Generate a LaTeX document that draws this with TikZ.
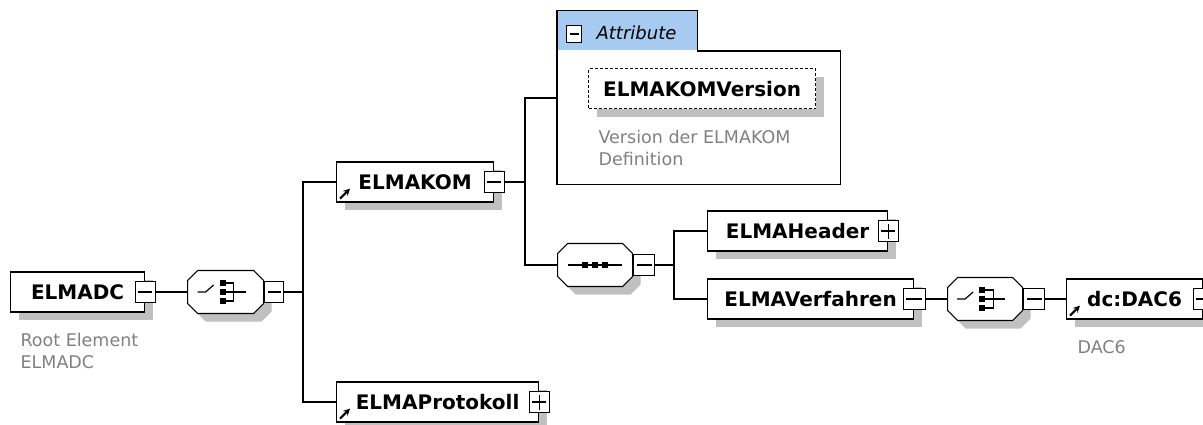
\documentclass[tikz,border=0pt]{standalone}
\usepackage{fontspec}
\setmainfont{DejaVu Sans}
\usetikzlibrary{shapes.misc, shadows, arrows, positioning}

\definecolor{shadowgray}{RGB}{192,192,192}
\definecolor{descgray}{RGB}{128,128,128}
\definecolor{attrblue}{RGB}{166,202,240}

\tikzset{
  elem/.style={rectangle, draw, fill=white, minimum height=40pt, anchor=west, inner sep=0pt,
    font=\fontsize{20}{24}\selectfont\bfseries,
    drop shadow={shadow xshift=8pt, shadow yshift=-8pt, fill=shadowgray, opacity=1}},
  attrelem/.style={elem, dash pattern=on 3pt off 2pt, anchor=north west},
  desc/.style={anchor=north west, inner sep=0pt, align=left, text=descgray,
    font=\fontsize{17.5}{22}\selectfont},
  expmin/.style={rectangle, draw, fill=white, minimum width=20pt, minimum height=21pt, inner sep=0pt,
    path picture={\draw ([xshift=3pt]path picture bounding box.west) -- ([xshift=-3pt]path picture bounding box.east);}},
  expplus/.style={expmin,
    path picture={\draw ([xshift=3pt]path picture bounding box.west) -- ([xshift=-3pt]path picture bounding box.east);
      \draw ([yshift=-3pt]path picture bounding box.north) -- ([yshift=3pt]path picture bounding box.south);}},
  comp/.style={chamfered rectangle, chamfered rectangle xsep=5pt, chamfered rectangle ysep=5pt,
    draw, fill=white, inner xsep=33pt, inner ysep=16.5pt, minimum size=0pt, anchor=west,
    drop shadow={shadow xshift=8pt, shadow yshift=-8pt, fill=shadowgray, opacity=1}},
  choice/.style={comp, path picture={
    \coordinate (o) at (path picture bounding box.center);
    \draw ([xshift=-28pt]o) -- ([xshift=-20pt]o) -- ([xshift=-12pt, yshift=7pt]o);
    \foreach \dy in {9,0,-9}
      \fill[black] ([xshift=-6pt, yshift=\dy pt-3pt]o) rectangle ++(6pt,6pt);
    \draw ([yshift=9pt]o) -- ([xshift=8pt, yshift=9pt]o) -- ([xshift=8pt, yshift=-9pt]o) -- ([yshift=-9pt]o);
    \draw (o) -- ([xshift=20pt]o);}},
  seq/.style={comp, path picture={
    \coordinate (o) at (path picture bounding box.center);
    \draw ([xshift=-27pt]o) -- ([xshift=27pt]o);
    \foreach \dx in {-10,0,10}
      \fill[black] ([xshift=\dx pt-3pt, yshift=-3pt]o) rectangle ++(6pt,6pt);}},
  refarrow/.style={-stealth, line width=2pt}
}

\begin{document}
\begin{tikzpicture}[x=1pt, y=-1pt, line width=1.2pt]
  \useasboundingbox (0,0) rectangle (1203,425);

  % root
  \node[elem, minimum width=134pt] (ELMADC) at (10,292) {ELMADC};
  \node[expmin] (ELMADCx) at (ELMADC.east) {};
  \node[desc] (ELMADCdoc) at (20,333) {Root Element\\ELMADC};

  \node[choice] (choice1) at (187,292) {};
  \node[expmin, anchor=west, minimum width=19pt] (choice1x) at (choice1.east) {};

  % first level
  \node[elem, minimum width=157pt] (ELMAKOM) at (336,182) {ELMAKOM};
  \node[expmin] (ELMAKOMx) at (ELMAKOM.east) {};
  \draw[refarrow] ([shift={(4pt,4pt)}]ELMAKOM.south west) -- ++(10pt,10pt);

  \node[elem, minimum width=202pt] (ELMAProtokoll) at (336,402) {ELMAProtokoll};
  \node[expplus] (ELMAProtokollx) at (ELMAProtokoll.east) {};
  \draw[refarrow] ([shift={(4pt,4pt)}]ELMAProtokoll.south west) -- ++(10pt,10pt);

  % attributes
  \node[fill=attrblue, minimum width=139pt, minimum height=39pt, inner sep=0pt, anchor=south west] (attrtab) at (557,51) {};
  \node[minimum width=282pt, minimum height=132pt, inner sep=0pt, anchor=north west] (attrs) at (557,51) {};
  \draw (attrs.south west) -- (attrtab.north west) -- (attrtab.north east) -- (attrtab.south east)
    -- (attrs.north east) -- (attrs.south east) -- cycle;
  \node[expmin, minimum width=15pt, minimum height=17pt] (attrx) at (574,34) {};
  \node[anchor=west, inner sep=0pt, font=\fontsize{18}{22}\selectfont\itshape] (attrlbl) at (596,33) {Attribute};
  \node[attrelem, minimum width=227pt] (ELMAKOMVersion) at (588,68) {ELMAKOMVersion};
  \node[desc] (ELMAKOMVersiondoc) at (598,130) {Version der ELMAKOM\\Definition};

  % sequence
  \node[seq, inner xsep=32.5pt] (seq) at (557,265) {};
  \node[expmin, anchor=west, minimum width=21pt] (seqx) at (seq.east) {};

  \node[elem, minimum width=180pt] (ELMAHeader) at (707,231) {ELMAHeader};
  \node[expplus] (ELMAHeaderx) at (ELMAHeader.east) {};

  \node[elem, minimum width=206pt] (ELMAVerfahren) at (707,299) {ELMAVerfahren};
  \node[expmin, minimum width=22pt] (ELMAVerfahrenx) at (ELMAVerfahren.east) {};

  \node[choice, inner xsep=32.5pt] (choice2) at (947,299) {};
  \node[expmin, anchor=west, minimum width=21pt] (choice2x) at (choice2.east) {};

  \node[elem, minimum width=136pt] (DAC6) at (1066,299) {dc:DAC6};
  \node[expplus] (DAC6x) at (DAC6.east) {};
  \draw[refarrow] ([shift={(4pt,4pt)}]DAC6.south west) -- ++(10pt,10pt);
  \node[desc] (DAC6doc) at (1077,340) {DAC6};

  % connectors
  \coordinate (bus1) at (303,292);
  \coordinate (bus2) at (525,182);
  \coordinate (bus3) at (674,265);
  \coordinate (attrin) at ([yshift=-47pt]attrs.north west);
  \draw (ELMADCx) -- (choice1);
  \draw (choice1x) -- (bus1);
  \draw (ELMAKOM.west) -| (bus1) |- (ELMAProtokoll.west);
  \draw (ELMAKOMx) -- (bus2);
  \draw (attrin) -| (bus2) |- (seq.west);
  \draw (seqx) -- (bus3);
  \draw (ELMAHeader.west) -| (bus3) |- (ELMAVerfahren.west);
  \draw (ELMAVerfahrenx) -- (choice2);
  \draw (choice2x) -- (DAC6);
\end{tikzpicture}
\end{document}
